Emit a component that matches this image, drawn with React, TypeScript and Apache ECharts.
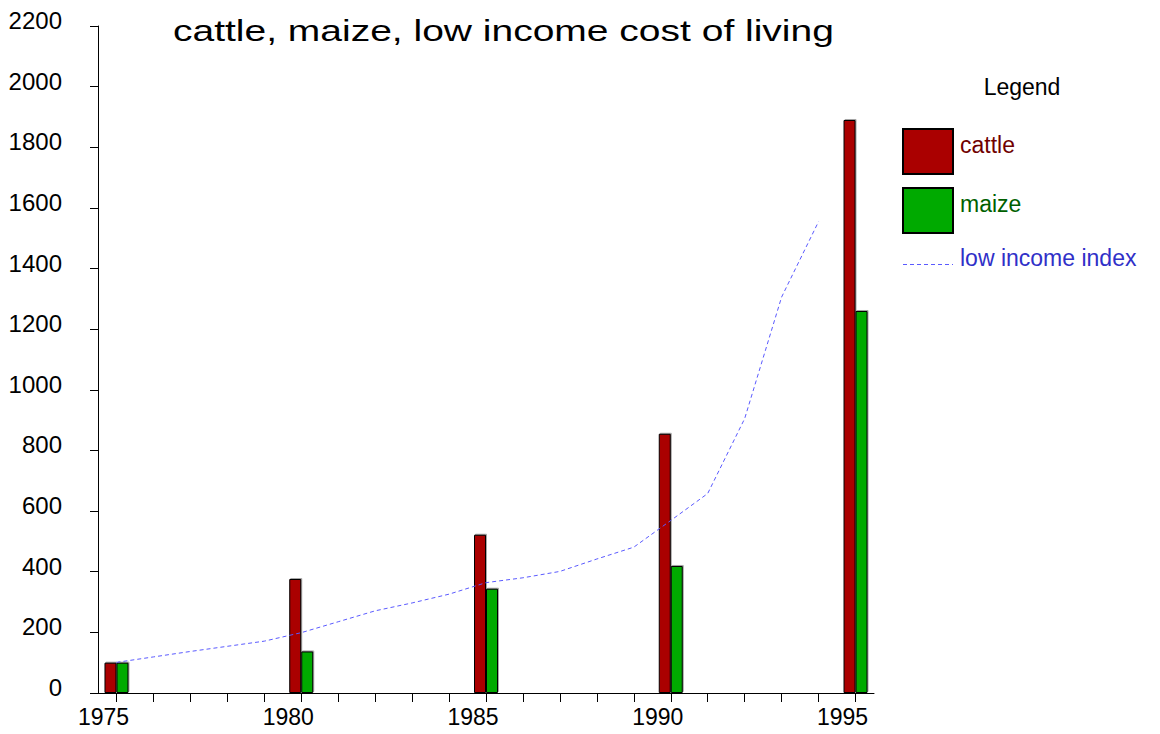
import React, { useEffect, useRef } from "react";
import * as echarts from "echarts";

const years = [
  "1975", "1976", "1977", "1978", "1979", "1980", "1981", "1982", "1983", "1984",
  "1985", "1986", "1987", "1988", "1989", "1990", "1991", "1992", "1993", "1994", "1995",
];
const cattle = [100, null, null, null, null, 376, null, null, null, null, 522, null, null, null, null, 855, null, null, null, null, 1890];
const maize = [100, null, null, null, null, 137, null, null, null, null, 344, null, null, null, null, 419, null, null, null, null, 1260];
const lowIncomeIndex = [101, 119, 137, 154, 171, 199, 235, 271, 297, 326, 364, 380, 401, 442, 481, 569, 658, 905, 1306, 1555, null];
const yTicks = { min: 0, max: 2200, interval: 200 };

const TITLE = "cattle, maize, low income cost of living";
const FONT = "'Liberation Sans', Arial, Helvetica, sans-serif";

export default function App() {
  const ref = useRef<HTMLDivElement>(null);
  useEffect(() => {
    if (!ref.current) return;
    const chart = echarts.init(ref.current, null, { renderer: "svg" });
    const barShadow = {
      shadowColor: "rgba(0,0,0,0.35)",
      shadowBlur: 0,
      shadowOffsetX: 1,
      shadowOffsetY: -1,
    };
    chart.setOption({
      animation: false,
      backgroundColor: "#ffffff",
      textStyle: { fontFamily: FONT },
      graphic: [
        {
          type: "text",
          x: 173,
          y: 31,
          scaleX: 1.3,
          style: {
            text: TITLE,
            font: `30px ${FONT}`,
            fill: "#000000",
            textAlign: "left",
            textVerticalAlign: "middle",
            verticalAlign: "middle",
          },
        },
        {
          type: "text",
          x: 1022,
          y: 87,
          style: {
            text: "Legend",
            font: `23px ${FONT}`,
            fill: "#000000",
            textAlign: "center",
            verticalAlign: "middle",
            textVerticalAlign: "middle",
          },
        },
      ],
      legend: {
        orient: "vertical",
        left: 902,
        top: 128,
        padding: 0,
        itemWidth: 50,
        itemHeight: 45,
        itemGap: 12,
        selectedMode: false,
        formatter: (name: string) => `{t|${name}}`,
        textStyle: {
          fontSize: 23,
          fontFamily: FONT,
          rich: { t: { fontSize: 23, fontFamily: FONT, padding: [0, 0, 14, 2] } },
        },
        data: [
          { name: "cattle", icon: "rect", textStyle: { color: "#700000" } },
          { name: "maize", icon: "rect", textStyle: { color: "#005f00" } },
          {
            name: "low income index",
            itemStyle: { color: "rgba(0,0,0,0)", borderWidth: 0, opacity: 0 },
            lineStyle: { color: "#5a5aff", width: 1, type: [4, 3] },
            textStyle: { color: "#3030c8" },
          },
        ],
      },
      grid: { left: 98, right: 286, top: 26, bottom: 41, containLabel: false },
      xAxis: {
        type: "category",
        data: years,
        boundaryGap: true,
        axisLine: { show: true, lineStyle: { color: "#000000", width: 1 } },
        axisTick: { show: true, alignWithLabel: true, interval: 0, length: 9, lineStyle: { color: "#000000" } },
        axisLabel: {
          interval: 4,
          color: "#000000",
          fontSize: 23,
          fontFamily: FONT,
          margin: 12,
          padding: [0, 26, 0, 0],
        },
        splitLine: { show: false },
      },
      yAxis: {
        type: "value",
        min: yTicks.min,
        max: yTicks.max,
        interval: yTicks.interval,
        axisLine: { show: true, lineStyle: { color: "#000000", width: 1 } },
        axisTick: { show: true, length: 8, lineStyle: { color: "#000000" } },
        axisLabel: {
          color: "#000000",
          fontSize: 24,
          fontFamily: FONT,
          margin: 36,
          formatter: (v: number) => `{a|${v}}`,
          rich: { a: { fontSize: 24, fontFamily: FONT, color: "#000000", padding: [0, 0, 11, 0] } },
        },
        splitLine: { show: false },
      },
      series: [
        {
          name: "cattle",
          type: "bar",
          data: cattle,
          barWidth: 12,
          barGap: "0%",
          itemStyle: { color: "#aa0000", borderColor: "#000000", borderWidth: 1, ...barShadow },
        },
        {
          name: "maize",
          type: "bar",
          data: maize,
          barWidth: 12,
          barGap: "0%",
          itemStyle: { color: "#00aa00", borderColor: "#000000", borderWidth: 1, ...barShadow },
        },
        {
          name: "low income index",
          type: "line",
          data: lowIncomeIndex,
          symbol: "none",
          showSymbol: false,
          smooth: false,
          connectNulls: false,
          itemStyle: { color: "#5a5aff" },
          lineStyle: { color: "#5a5aff", width: 1, type: [4, 3] },
          z: 5,
        },
      ],
    });
    return () => chart.dispose();
  }, []);
  return (
    <div
      ref={ref}
      style={{ position: "fixed", left: 0, top: 0, width: 1160, height: 734 }}
    />
  );
}
